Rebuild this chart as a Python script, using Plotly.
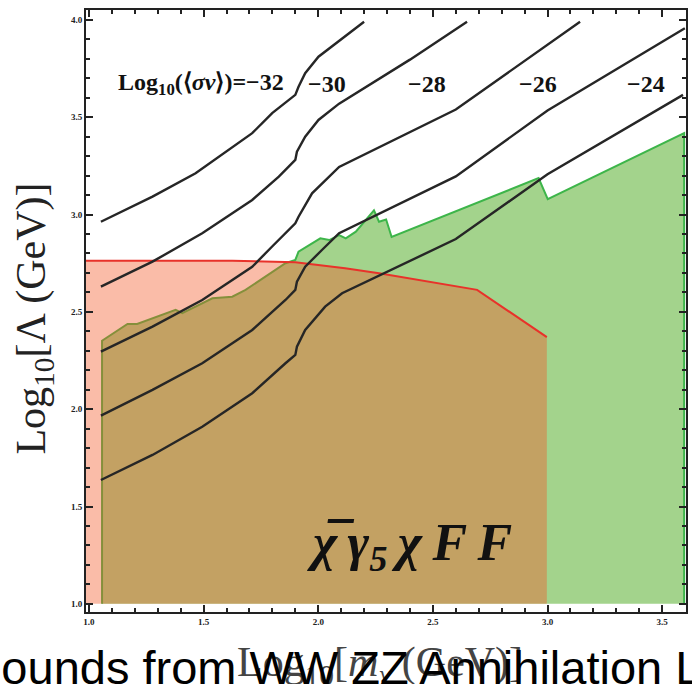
import plotly.graph_objects as go

# Contour levels of log10(<sigma v>) for the chi-bar gamma5 chi FF operator
levels = ["-32", "-30", "-28", "-26", "-24"]

c32_x = [1.052, 1.277, 1.465, 1.712, 1.799, 1.900, 1.914, 1.943, 2.001, 2.117, 2.200]
c32_y = [2.963, 3.092, 3.212, 3.418, 3.521, 3.615, 3.657, 3.726, 3.811, 3.918, 3.991]

c30_x = [1.052, 1.277, 1.494, 1.712, 1.828, 1.900, 1.907, 1.943, 2.001, 2.091, 2.400, 2.649]
c30_y = [2.630, 2.758, 2.904, 3.075, 3.195, 3.281, 3.323, 3.400, 3.486, 3.570, 3.796, 3.991]

c28_x = [1.052, 1.277, 1.494, 1.712, 1.800, 1.900, 1.914, 1.973, 2.091, 2.600, 3.142]
c28_y = [2.296, 2.424, 2.561, 2.732, 2.837, 2.955, 2.989, 3.109, 3.245, 3.540, 3.991]

c26_x = [1.052, 1.277, 1.494, 1.712, 1.857, 1.900, 1.907, 1.943, 2.016, 2.091, 2.600, 3.000, 3.599]
c26_y = [1.967, 2.099, 2.236, 2.407, 2.561, 2.613, 2.655, 2.732, 2.818, 2.904, 3.196, 3.535, 3.957]

c24_x = [1.052, 1.277, 1.494, 1.712, 1.857, 1.900, 1.907, 1.943, 2.030, 2.104, 2.600, 3.000, 3.591]
c24_y = [1.636, 1.765, 1.910, 2.082, 2.236, 2.279, 2.321, 2.407, 2.527, 2.596, 2.874, 3.207, 3.615]

contours = [(c32_x, c32_y), (c30_x, c30_y), (c28_x, c28_y), (c26_x, c26_y), (c24_x, c24_y)]

# Excluded region (green): upper boundary in log10(m) vs log10(Lambda)
green_x = [1.057, 1.057, 1.168, 1.210, 1.378, 1.407, 1.538, 1.625, 1.683, 1.857, 1.900,
           1.914, 2.009, 2.048, 2.091, 2.120, 2.164, 2.214, 2.243, 2.265, 2.296, 2.320,
           2.961, 3.001, 3.596, 3.596]
green_y = [1.000, 2.352, 2.438, 2.438, 2.510, 2.493, 2.570, 2.578, 2.613, 2.750, 2.767,
           2.809, 2.878, 2.869, 2.895, 2.878, 2.912, 2.983, 3.022, 2.963, 2.975, 2.885,
           3.187, 3.079, 3.418, 1.000]

# Excluded region (red): upper boundary
red_x = [0.987, 1.625, 1.900, 2.117, 2.265, 2.693, 2.997]
red_y = [2.763, 2.763, 2.755, 2.724, 2.698, 2.613, 2.370]
y_floor = 1.0

# frame ticks
x_major = [1.0, 1.5, 2.0, 2.5, 3.0, 3.5]
y_major = [1.0, 1.5, 2.0, 2.5, 3.0, 3.5, 4.0]
x_minor = [round(1.0 + 0.1 * i, 1) for i in range(27) if i % 5]
y_minor = [round(1.0 + 0.1 * i, 1) for i in range(31) if i % 5]

SERIF = "Liberation Serif"
FRAME = "#222"

fig = go.Figure()

# green fill + border
fig.add_trace(go.Scatter(x=green_x, y=green_y, fill="toself", mode="lines",
                         line=dict(width=0), fillcolor="#A3D38C", hoverinfo="skip"))
fig.add_trace(go.Scatter(x=green_x, y=green_y, mode="lines",
                         line=dict(color="#3DB54A", width=2), hoverinfo="skip"))

# red fill (translucent) + border
red_poly_x = [red_x[0]] + red_x + [red_x[-1]]
red_poly_y = [y_floor] + red_y + [y_floor]
fig.add_trace(go.Scatter(x=red_poly_x, y=red_poly_y, fill="toself", mode="lines",
                         line=dict(width=0), fillcolor="rgba(242,87,37,0.4)", hoverinfo="skip"))
fig.add_trace(go.Scatter(x=red_x, y=red_y, mode="lines",
                         line=dict(color="#E8322A", width=2), hoverinfo="skip"))

for cx, cy in contours:
    fig.add_trace(go.Scatter(x=cx, y=cy, mode="lines", line=dict(color="#262626", width=2.4),
                             hoverinfo="skip"))

# contour labels
label_x = [1.487, 2.039, 2.474, 2.957, 3.430]
label_texts = ["Log<sub>10</sub>(⟨<i>σv</i>⟩)=−32"] + ["−" + lv[1:] for lv in levels[1:]]
for lx, t in zip(label_x, label_texts):
    fig.add_annotation(x=lx, y=3.672, text="<b>" + t + "</b>", showarrow=False,
                       font=dict(family=SERIF, size=24, color="#111"))

thin = "\u2009"
fig.add_annotation(x=2.40, y=1.295,
                   text="<b><i>χ̅" + thin + "γ<sub>5</sub>" + thin + "χ" + thin + "F" + thin + "F</i></b>",
                   showarrow=False, font=dict(family=SERIF, size=52, color="#111"))

# frame with inward major/minor ticks on all four sides
axis_common = dict(showgrid=False, zeroline=False, showline=True, linecolor=FRAME, linewidth=2,
                   mirror="allticks", ticks="inside", ticklen=7, tickwidth=2, tickcolor=FRAME,
                   tickformat=".1f", layer="above traces",
                   tickfont=dict(family=SERIF, size=9, color=FRAME, weight="bold"))

fig.update_xaxes(range=[0.987, 3.604], tickvals=x_major,
                 minor=dict(tickvals=x_minor, ticks="inside", ticklen=4, tickwidth=1.5,
                            tickcolor=FRAME),
                 **axis_common)
fig.update_yaxes(range=[0.958, 4.051], tickvals=y_major,
                 minor=dict(tickvals=y_minor, ticks="inside", ticklen=4, tickwidth=1.5,
                            tickcolor=FRAME),
                 **axis_common)

fig.add_annotation(xref="paper", yref="paper", x=-0.086, xanchor="center", y=0.488,
                   yanchor="middle", textangle=-90,
                   text="Log<sub>10</sub>[Λ (GeV)]", showarrow=False,
                   font=dict(family=SERIF, size=42, color="#222"))
fig.add_annotation(xref="paper", yref="paper", x=0.49, y=-0.088, yanchor="middle",
                   text="Log<sub>10</sub>[<i>m</i><sub><i>χ</i></sub> (GeV)]", showarrow=False,
                   font=dict(family=SERIF, size=42, color="#444"))
fig.add_annotation(xref="paper", yref="paper", x=-0.196, xanchor="left", y=-0.093, yanchor="middle",
                   text="Bounds from WW ZZ Annihilation Limits", showarrow=False,
                   font=dict(family="Liberation Sans", size=47, color="#000"))

fig.update_layout(width=692, height=684, margin=dict(l=86, r=4, t=10, b=72),
                  paper_bgcolor="white", plot_bgcolor="white", showlegend=False)

fig.write_html("out.html")
